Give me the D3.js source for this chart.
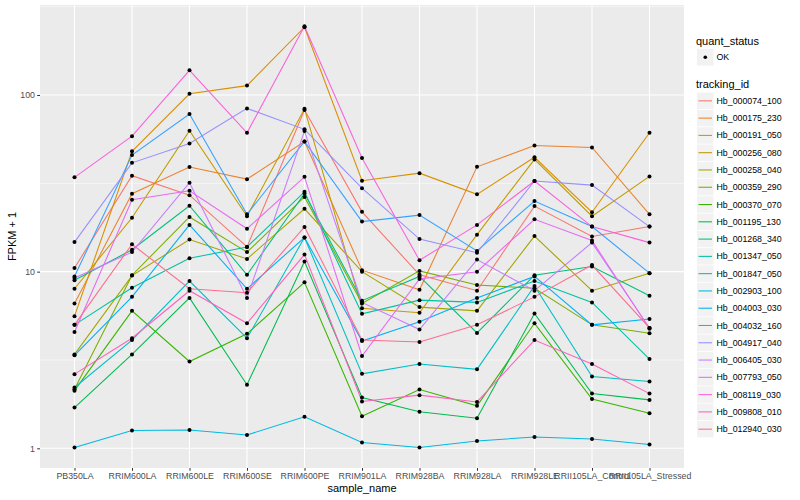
<!DOCTYPE html>
<html lang="en">
<head>
<meta charset="UTF-8">
<script src="https://cdn.jsdelivr.net/npm/d3@7"></script>
<title>FPKM</title>
<style>
  body { margin: 0; background: #fff; }
  text { font-family: "Liberation Sans", Arial, Helvetica, sans-serif; }
</style>
</head>
<body>
<script>
// samples on the x axis
const samples = ["PB350LA", "RRIM600LA", "RRIM600LE", "RRIM600SE", "RRIM600PE", "RRIM901LA",
  "RRIM928BA", "RRIM928LA", "RRIM928LE", "RRII105LA_Control", "RRII105LA_Stressed"]

// genes (tracking_id) and their colours (ggplot hue palette)
const trackingIds = ["Hb_000074_100", "Hb_000175_230", "Hb_000191_050", "Hb_000256_080", "Hb_000258_040",
  "Hb_000359_290", "Hb_000370_070", "Hb_001195_130", "Hb_001268_340", "Hb_001347_050",
  "Hb_001847_050", "Hb_002903_100", "Hb_004003_030", "Hb_004032_160", "Hb_004917_040",
  "Hb_006405_030", "Hb_007793_050", "Hb_008119_030", "Hb_009808_010", "Hb_012940_030"]
const colors = ["#F8766D", "#EA8331", "#D89000", "#C09B00", "#A3A500", "#7CAE00", "#39B600", "#00BB4E",
  "#00BF7D", "#00C1A3", "#00BFC4", "#00BAE0", "#00B0F6", "#35A2FF", "#9590FF", "#C77CFF",
  "#E76BF3", "#FA62DB", "#FF62BC", "#FF6C90"]

// FPKM + 1 per sample, one array per gene
const hb000074_100 = [10.5, 34.9, 27.1, 13.8, 82.2, 21.8, 9.6, 7.8, 23.5, 15.8, 18.0]
const hb000175_230 = [6.6, 27.6, 39.1, 33.4, 54.5, 10.2, 7.9, 39.2, 51.8, 50.5, 21.1]
const hb000191_050 = [5.6, 48.0, 101.6, 113, 242, 32.7, 36.1, 27.4, 44.4, 21.7, 61.1]
const hb000256_080 = [8.0, 20.2, 62.7, 20.6, 83.5, 6.2, 5.85, 16.2, 43.2, 20.6, 34.6]
const hb000258_040 = [3.4, 9.5, 15.2, 11.8, 22.7, 10.0, 6.3, 6.0, 15.9, 7.8, 9.8]
const hb000359_290 = [2.16, 9.55, 20.4, 12.9, 26.5, 6.6, 10.1, 8.4, 8.05, 5.0, 4.48]
const hb000370_070 = [2.12, 6.0, 3.1, 4.45, 8.7, 1.52, 2.15, 1.74, 5.1, 1.9, 1.58]
const hb001195_130 = [1.7, 3.4, 7.1, 2.29, 11.4, 1.94, 1.61, 1.48, 5.8, 2.04, 1.88]
const hb001268_340 = [8.95, 13.3, 23.6, 9.6, 27.7, 6.85, 9.4, 4.5, 9.55, 10.7, 7.3]
const hb001347_050 = [5.0, 8.1, 11.9, 13.8, 28.3, 5.77, 6.9, 6.7, 8.85, 6.7, 3.2]
const hb001847_050 = [2.21, 4.1, 8.85, 4.2, 15.6, 2.64, 3.0, 2.8, 8.3, 2.55, 2.39]
const hb002903_100 = [1.01, 1.26, 1.27, 1.19, 1.51, 1.08, 1.01, 1.10, 1.16, 1.13, 1.05]
const hb004003_030 = [3.36, 7.2, 18.4, 8.0, 15.6, 4.05, 5.2, 7.1, 9.4, 5.0, 5.4]
const hb004032_160 = [9.4, 45.7, 78, 21.1, 54.6, 19.2, 20.9, 13.1, 25.1, 18.0, 9.8]
const hb004917_040 = [14.7, 41.3, 53.2, 84, 63.9, 29.7, 15.3, 12.8, 32.6, 30.9, 18.0]
const hb006405_030 = [9.2, 12.9, 31.9, 7.1, 62.5, 6.7, 4.7, 11.7, 7.8, 14.6, 4.8]
const hb007793_050 = [4.55, 25.5, 28.7, 17.5, 34.4, 3.33, 9.1, 10.0, 19.8, 15.0, 4.75]
const hb008119_030 = [34.2, 58.5, 138, 61.1, 245, 44, 11.6, 18.4, 32.6, 18.0, 14.6]
const hb009808_010 = [2.63, 4.2, 7.8, 5.1, 12.5, 1.84, 2.0, 1.83, 4.1, 3.0, 2.04]
const hb012940_030 = [5.0, 14.3, 8.0, 7.6, 17.9, 4.1, 4.0, 5.0, 7.2, 10.9, 4.8]

const yBreaks = [1, 10, 100]

const allValues = [hb000074_100, hb000175_230, hb000191_050, hb000256_080, hb000258_040,
  hb000359_290, hb000370_070, hb001195_130, hb001268_340, hb001347_050,
  hb001847_050, hb002903_100, hb004003_030, hb004032_160, hb004917_040,
  hb006405_030, hb007793_050, hb008119_030, hb009808_010, hb012940_030]

const series = trackingIds.map((id, i) => ({
  id: id,
  color: colors[i],
  points: allValues[i].map((v, j) => ({ sample: samples[j], value: v }))
}))

const width = 800, height = 500
const panel = { left: 40, right: 684, top: 5, bottom: 468 }

const svg = d3.select("body").append("svg").attr("width", width).attr("height", height)

// scales
const x = d3.scalePoint().domain(samples).range([panel.left, panel.right]).padding(0.6)
const y = d3.scaleLog().domain([0.7737, 323.2]).range([panel.bottom, panel.top])

// panel background
svg.append("rect")
  .attr("x", panel.left).attr("y", panel.top)
  .attr("width", panel.right - panel.left).attr("height", panel.bottom - panel.top)
  .attr("fill", "#EBEBEB")

// minor grid (half decades)
const minorBreaks = yBreaks.map(b => b * Math.sqrt(10)).filter(v => v < y.domain()[1])
svg.append("g").selectAll("line").data(minorBreaks).enter().append("line")
  .attr("x1", panel.left).attr("x2", panel.right)
  .attr("y1", d => y(d)).attr("y2", d => y(d))
  .attr("stroke", "#fff").attr("stroke-width", 0.55)

// major grid
svg.append("g").selectAll("line").data(yBreaks).enter().append("line")
  .attr("x1", panel.left).attr("x2", panel.right)
  .attr("y1", d => y(d)).attr("y2", d => y(d))
  .attr("stroke", "#fff").attr("stroke-width", 1.1)
svg.append("g").selectAll("line").data(samples).enter().append("line")
  .attr("x1", d => x(d)).attr("x2", d => x(d))
  .attr("y1", panel.top).attr("y2", panel.bottom)
  .attr("stroke", "#fff").attr("stroke-width", 1.1)

// lines
const line = d3.line().x(d => x(d.sample)).y(d => y(d.value))
svg.append("g").selectAll("path").data(series).enter().append("path")
  .attr("d", d => line(d.points))
  .attr("fill", "none")
  .attr("stroke", d => d.color)
  .attr("stroke-width", 1.07)

// points
svg.append("g").selectAll("g").data(series).enter().append("g")
  .selectAll("circle").data(d => d.points).enter().append("circle")
  .attr("cx", d => x(d.sample)).attr("cy", d => y(d.value))
  .attr("r", 2).attr("fill", "#000")

// axes
const yAxis = d3.axisLeft(y).tickValues(yBreaks).tickFormat(d3.format("d")).tickSize(2.8).tickPadding(2.2)
const gy = svg.append("g").attr("transform", `translate(${panel.left},0)`).call(yAxis)
gy.select(".domain").remove()
gy.selectAll("line").attr("stroke", "#333")
gy.selectAll("text").attr("fill", "#4D4D4D").style("font-size", "8.8px")

const xAxis = d3.axisBottom(x).tickSize(2.8).tickPadding(2.2)
const gx = svg.append("g").attr("transform", `translate(0,${panel.bottom})`).call(xAxis)
gx.select(".domain").remove()
gx.selectAll("line").attr("stroke", "#333")
gx.selectAll("text").attr("fill", "#4D4D4D").style("font-size", "8.8px")

// axis titles
svg.append("text").attr("x", (panel.left + panel.right) / 2).attr("y", 492)
  .attr("text-anchor", "middle").style("font-size", "11px").text("sample_name")
svg.append("text").attr("transform", `translate(16,${(panel.top + panel.bottom) / 2}) rotate(-90)`)
  .attr("text-anchor", "middle").style("font-size", "11px").text("FPKM + 1")

// legend: quant_status
const lg = svg.append("g")
lg.append("text").attr("x", 696).attr("y", 44.5).style("font-size", "11px").text("quant_status")
lg.append("rect").attr("x", 697).attr("y", 49).attr("width", 16.5).attr("height", 16.5).attr("fill", "#F2F2F2")
lg.append("circle").attr("cx", 705.3).attr("cy", 57.3).attr("r", 1.8).attr("fill", "#000")
lg.append("text").attr("x", 716.5).attr("y", 60.3).style("font-size", "8.8px").text("OK")

// legend: tracking_id
lg.append("text").attr("x", 696).attr("y", 88.3).style("font-size", "11px").text("tracking_id")
const step = 17.28
const keys = lg.selectAll(".key").data(series).enter().append("g")
  .attr("class", "key")
  .attr("transform", (d, i) => `translate(697,${92.6 + i * step})`)
keys.append("rect").attr("width", 16.5).attr("height", 16.5).attr("fill", "#F2F2F2")
keys.append("line").attr("x1", 1.5).attr("x2", 15).attr("y1", 8.25).attr("y2", 8.25)
  .attr("stroke", d => d.color).attr("stroke-width", 1.07)
keys.append("text").attr("x", 19.5).attr("y", 11.3).style("font-size", "8.8px").text(d => d.id)
</script>
</body>
</html>
